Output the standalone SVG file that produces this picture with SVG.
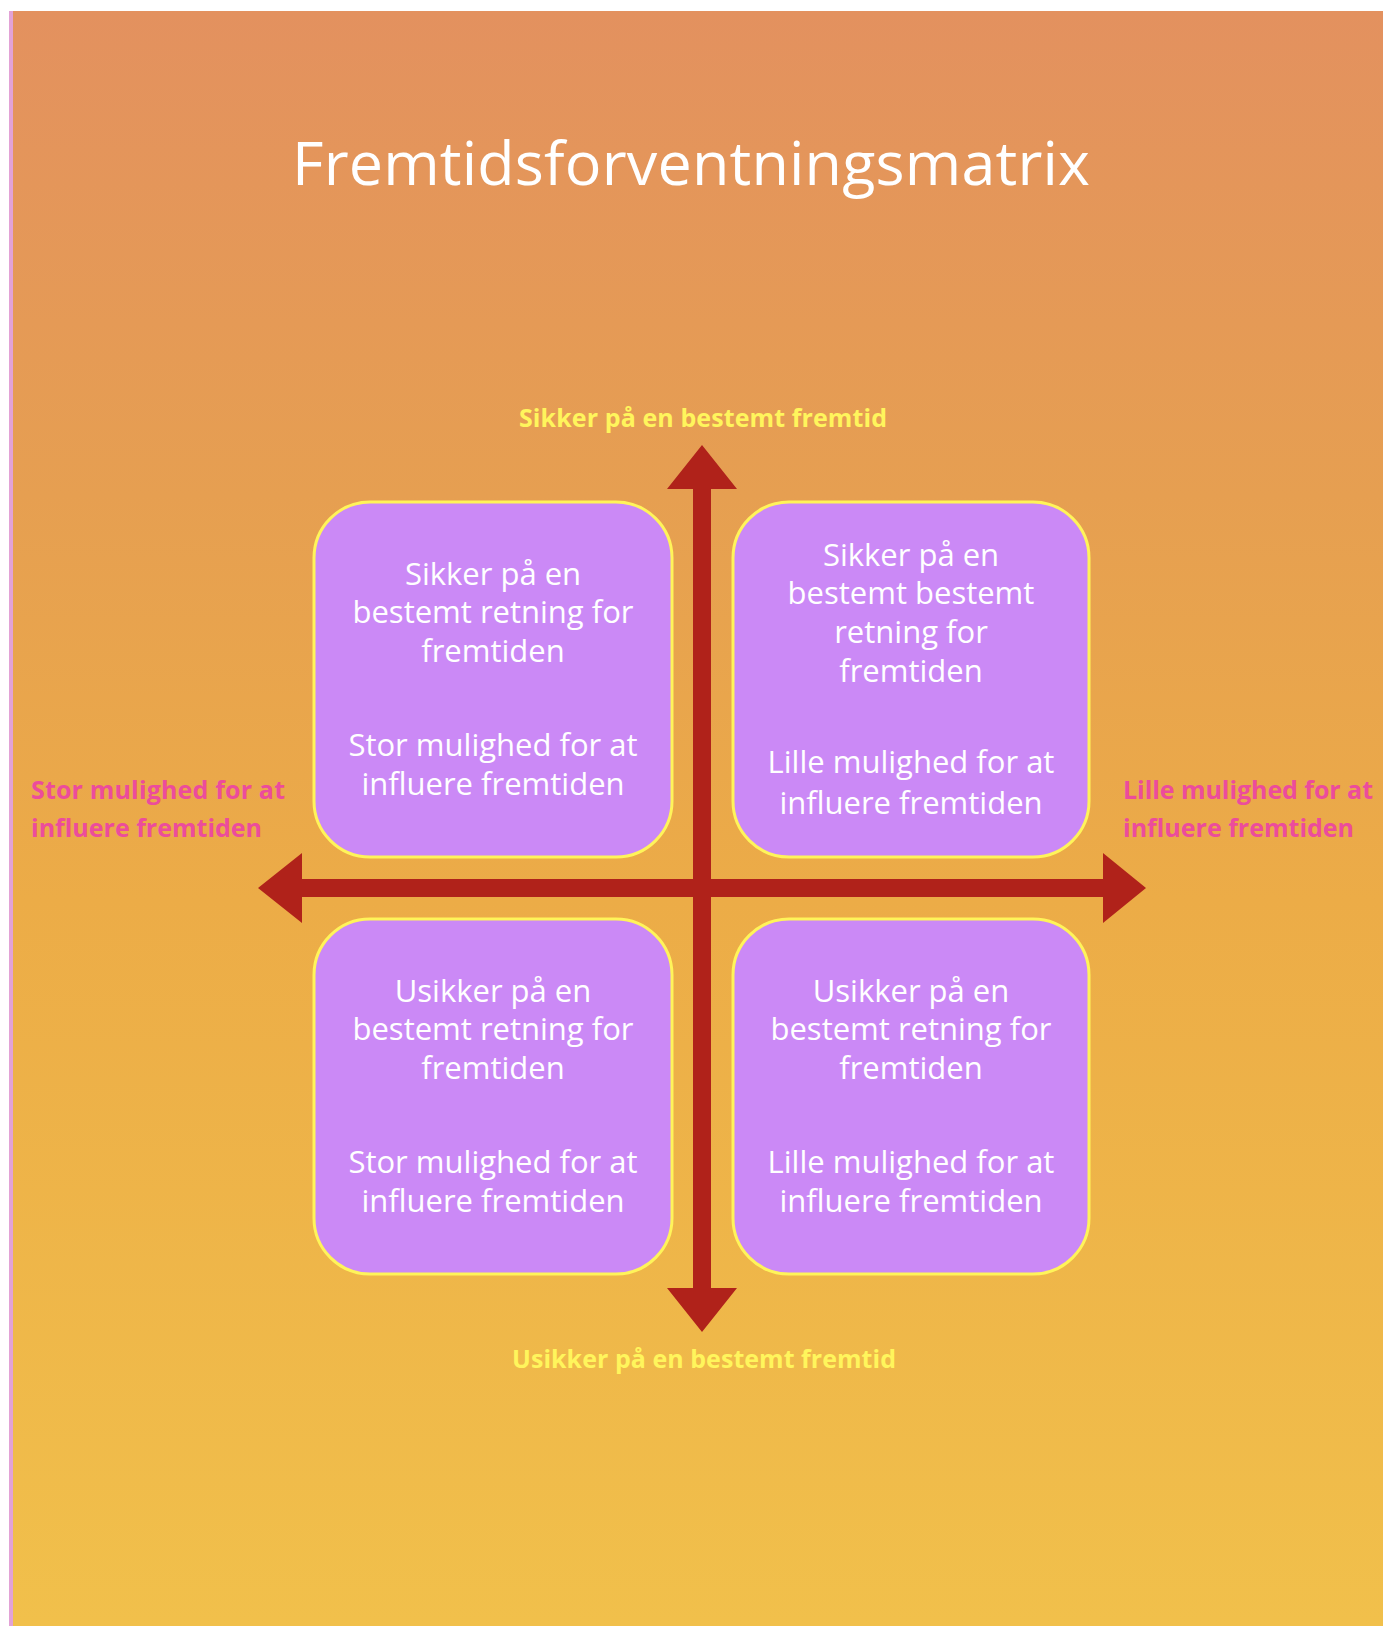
<svg xmlns="http://www.w3.org/2000/svg" width="1383" height="1626" viewBox="0 0 1383 1626">
  <defs>
    <linearGradient id="bg" x1="0" y1="0" x2="0" y2="1">
      <stop offset="0" stop-color="#E3915F"/>
      <stop offset="0.3" stop-color="#E69F51"/>
      <stop offset="0.55" stop-color="#ECAC47"/>
      <stop offset="1" stop-color="#F1C04B"/>
    </linearGradient>
    <style>
      .box { fill: #CB89F6; stroke: #FFF45A; stroke-width: 3; }
      .bt { font-family: "Open Sans", "Noto Sans", sans-serif; font-size: 31px; fill: #FFFFFF; text-anchor: middle; }
      .title { font-family: "Open Sans", "Noto Sans", sans-serif; font-size: 61px; fill: #FFFFFF; text-anchor: middle; }
      .ylab { font-family: "Open Sans", "Noto Sans", sans-serif; font-weight: bold; font-size: 25px; fill: #FFF55C; text-anchor: middle; }
      .plab { font-family: "Open Sans", "Noto Sans", sans-serif; font-weight: bold; font-size: 25px; fill: #EC4C9C; }
      .axis { fill: #B0221A; }
    </style>
  </defs>

  <rect x="0" y="0" width="1383" height="1626" fill="#FFFFFF"/>
  <rect x="9" y="11" width="5" height="1615" fill="#E2A2D6"/>
  <rect x="13" y="11" width="1370" height="1615" fill="url(#bg)"/>

  <text id="title" class="title" x="691" y="185" textLength="798">Fremtidsforventningsmatrix</text>

  <g id="label-top"><text class="ylab" x="703" y="427" textLength="368">Sikker på en bestemt fremtid</text></g>
  <g id="label-bottom"><text class="ylab" x="704" y="1368" textLength="384">Usikker på en bestemt fremtid</text></g>
  <g id="label-left">
    <text class="plab" x="31" y="799" textLength="254">Stor mulighed for at</text>
    <text class="plab" x="31" y="837">influere fremtiden</text>
  </g>
  <g id="label-right">
    <text class="plab" x="1123" y="799" textLength="250">Lille mulighed for at</text>
    <text class="plab" x="1123" y="837">influere fremtiden</text>
  </g>

  <g id="box-tl">
    <rect class="box" x="314" y="502" width="358" height="355" rx="56" ry="56"/>
    <text class="bt" x="493" y="585">Sikker på en</text>
    <text class="bt" x="493" y="623">bestemt retning for</text>
    <text class="bt" x="493" y="662">fremtiden</text>
    <text class="bt" x="493" y="756">Stor mulighed for at</text>
    <text class="bt" x="493" y="795">influere fremtiden</text>
  </g>
  <g id="box-tr">
    <rect class="box" x="733" y="502" width="356" height="355" rx="56" ry="56"/>
    <text class="bt" x="911" y="566">Sikker på en</text>
    <text class="bt" x="911" y="604">bestemt bestemt</text>
    <text class="bt" x="911" y="643">retning for</text>
    <text class="bt" x="911" y="682">fremtiden</text>
    <text class="bt" x="911" y="773">Lille mulighed for at</text>
    <text class="bt" x="911" y="814">influere fremtiden</text>
  </g>
  <g id="box-bl">
    <rect class="box" x="314" y="919" width="358" height="355" rx="56" ry="56"/>
    <text class="bt" x="493" y="1002">Usikker på en</text>
    <text class="bt" x="493" y="1040">bestemt retning for</text>
    <text class="bt" x="493" y="1079">fremtiden</text>
    <text class="bt" x="493" y="1173">Stor mulighed for at</text>
    <text class="bt" x="493" y="1212">influere fremtiden</text>
  </g>
  <g id="box-br">
    <rect class="box" x="733" y="919" width="356" height="355" rx="56" ry="56"/>
    <text class="bt" x="911" y="1002">Usikker på en</text>
    <text class="bt" x="911" y="1040">bestemt retning for</text>
    <text class="bt" x="911" y="1079">fremtiden</text>
    <text class="bt" x="911" y="1173">Lille mulighed for at</text>
    <text class="bt" x="911" y="1212">influere fremtiden</text>
  </g>

  <g id="connectors">
    <polygon class="axis" points="702,445 737,489 711,489 711,1288 737,1288 702,1332 667,1288 693,1288 693,489 667,489"/>
    <polygon class="axis" points="258,888 302,853 302,879 1103,879 1103,853 1146,888 1103,923 1103,897 302,897 302,923"/>
  </g>
</svg>
